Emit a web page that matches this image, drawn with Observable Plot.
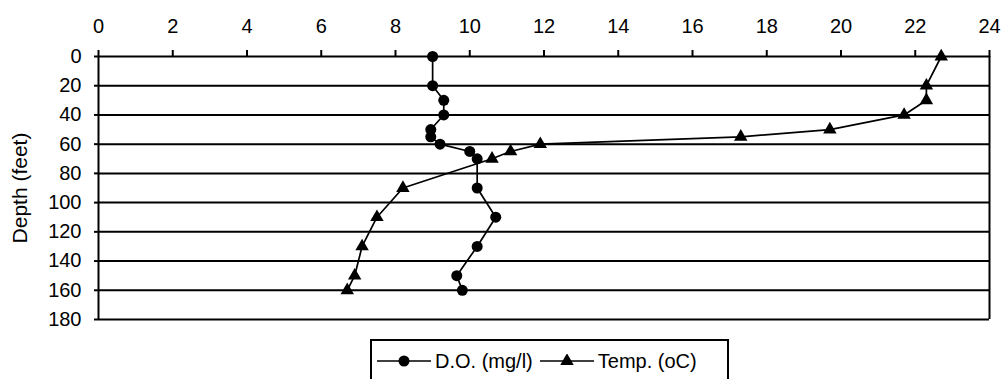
<!DOCTYPE html>
<html>
<head>
<meta charset="utf-8">
<script src="https://cdn.jsdelivr.net/npm/d3@7"></script>
<script src="https://cdn.jsdelivr.net/npm/@observablehq/plot@0.6"></script>
<style>
  html, body { margin: 0; padding: 0; background: #fff; }
  #wrap { position: relative; width: 1003px; height: 379px; overflow: hidden; font-family: "Liberation Sans", Arial, sans-serif; }
  #legend { position: absolute; left: 370px; top: 339px; width: 359px; height: 44px; border: 2px solid #000; box-sizing: border-box;
            display: flex; align-items: center; font-size: 20px; color: #000; padding-left: 5px; white-space: nowrap; }
  #legend svg { display: block; flex: none; }
  .lt { margin: 0 7px 0 4px; }
</style>
</head>
<body>
<div id="wrap"><div id="chart"></div><div id="legend"></div></div>
<script>
// Data
const depthFeet = [0, 20, 30, 40, 50, 55, 60, 65, 70, 90, 110, 130, 150, 160];
const doValues  = [9.0, 9.0, 9.3, 9.3, 8.95, 8.95, 9.2, 10.0, 10.2, 10.2, 10.7, 10.2, 9.65, 9.8];
const tempValues = [22.7, 22.3, 22.3, 21.7, 19.7, 17.3, 11.9, 11.1, 10.6, 8.2, 7.5, 7.1, 6.9, 6.7];
const seriesNames = ["D.O. (mg/l)", "Temp. (oC)"];
const xTicks = [0, 2, 4, 6, 8, 10, 12, 14, 16, 18, 20, 22, 24];
const yTicks = [0, 20, 40, 60, 80, 100, 120, 140, 160, 180];
const yLabel = "Depth (feet)";

const doData = depthFeet.map((d, i) => ({depth: d, value: doValues[i]}));
const tempData = depthFeet.map((d, i) => ({depth: d, value: tempValues[i]}));

const chart = Plot.plot({
  width: 1003,
  height: 330,
  marginLeft: 98,
  marginRight: 14,
  marginTop: 56,
  marginBottom: 11,
  style: {fontFamily: "'Liberation Sans', Arial, sans-serif", fontSize: "20px", color: "#000", background: "#fff", overflow: "visible"},
  x: {domain: [0, 24]},
  y: {domain: [0, 180], reverse: true},
  marks: [
    Plot.ruleY(yTicks, {stroke: "#000", strokeWidth: 2}),
    Plot.ruleX([0, 24], {stroke: "#000", strokeWidth: 2}),
    Plot.axisX({anchor: "top", ticks: xTicks, tickSize: 7, tickPadding: 17, strokeWidth: 2, label: null, fontSize: 20, tickFormat: d => String(d)}),
    Plot.axisY({anchor: "left", ticks: yTicks, tickSize: 4, tickPadding: 13, strokeWidth: 2, label: null, fontSize: 20, tickFormat: d => String(d)}),
    Plot.text([yLabel], {frameAnchor: "left", textAnchor: "middle", rotate: -90, dx: -78, fontSize: 21, fill: "#000"}),
    Plot.line(doData, {x: "value", y: "depth", stroke: "#000", strokeWidth: 1.7}),
    Plot.dot(doData, {x: "value", y: "depth", r: 5.5, fill: "#000", stroke: "none", symbol: "circle"}),
    Plot.line(tempData, {x: "value", y: "depth", stroke: "#000", strokeWidth: 1.7}),
    Plot.dot(tempData, {x: "value", y: "depth", r: 5, fill: "#000", stroke: "none", symbol: "triangle"})
  ]
});
document.getElementById("chart").appendChild(chart);

// Legend below the chart
const legend = document.getElementById("legend");
const ns = "http://www.w3.org/2000/svg";
function sample(kind) {
  const s = document.createElementNS(ns, "svg");
  s.setAttribute("width", 54); s.setAttribute("height", 14);
  const l = document.createElementNS(ns, "line");
  l.setAttribute("x1", 0); l.setAttribute("x2", 54); l.setAttribute("y1", 7); l.setAttribute("y2", 7);
  l.setAttribute("stroke", "#000"); l.setAttribute("stroke-width", 1.7);
  s.appendChild(l);
  const p = document.createElementNS(ns, "path");
  const sym = kind === "circle" ? d3.symbolCircle : d3.symbolTriangle;
  const r = kind === "circle" ? 5.5 : 5;
  p.setAttribute("d", d3.symbol(sym, Math.PI * r * r)());
  p.setAttribute("transform", "translate(27,7)");
  p.setAttribute("fill", "#000");
  s.appendChild(p);
  return s;
}
[["circle", seriesNames[0]], ["triangle", seriesNames[1]]].forEach(([k, name]) => {
  legend.appendChild(sample(k));
  const t = document.createElement("span");
  t.className = "lt"; t.textContent = name;
  legend.appendChild(t);
});
</script>
</body>
</html>
